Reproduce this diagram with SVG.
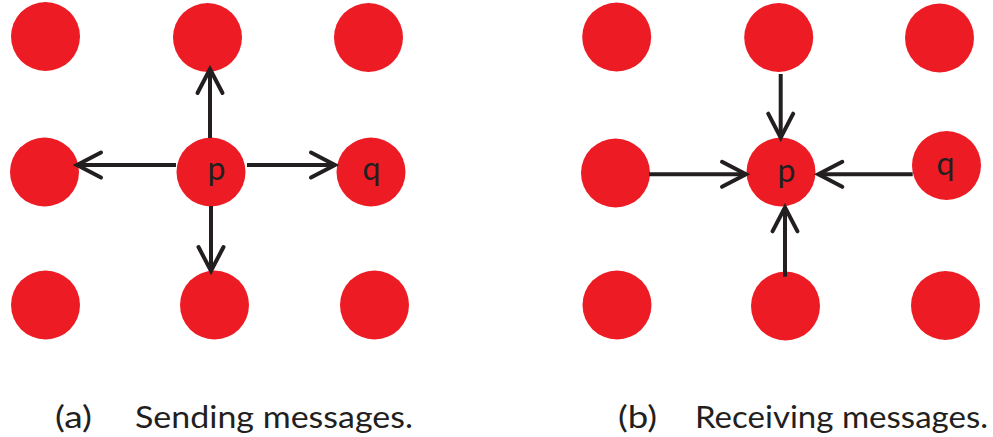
<svg xmlns="http://www.w3.org/2000/svg" width="993" height="437" viewBox="0 0 993 437">
<style>
.n{fill:#ed1c24}
.c{stroke:#231f20;stroke-width:4;fill:none}
.lbl{font-family:Lato,"Open Sans",sans-serif;font-size:32px;fill:#231f20;text-anchor:middle}
.cap{font-family:Lato,"Open Sans",sans-serif;font-size:31px;fill:#231f20}
</style>
<defs>
<marker id="ah" markerUnits="userSpaceOnUse" viewBox="-30 -16 34 32" refX="0" refY="0" markerWidth="34" markerHeight="32" orient="auto" overflow="visible">
<path d="M-24,-12.5 L0,0 L-24,12.5" fill="none" stroke="#231f20" stroke-width="4" stroke-linecap="round" stroke-linejoin="miter"/>
</marker>
</defs>
<rect width="993" height="437" fill="#fff"/>
<g id="panel-a">
<g id="a11"><circle class="n" cx="45.5" cy="36.5" r="34.5"/></g>
<g id="a12"><circle class="n" cx="207.5" cy="37.5" r="34.5"/></g>
<g id="a13"><circle class="n" cx="368.5" cy="37.5" r="34.5"/></g>
<g id="a21"><circle class="n" cx="44.5" cy="172" r="34.5"/></g>
<g id="a-p"><circle class="n" cx="211" cy="172" r="34.5"/><text class="lbl" x="216.5" y="180">p</text></g>
<g id="a-q"><circle class="n" cx="371" cy="172" r="34.5"/><text class="lbl" x="371.5" y="180">q</text></g>
<g id="a31"><circle class="n" cx="45.5" cy="305" r="34.5"/></g>
<g id="a32"><circle class="n" cx="214.5" cy="305" r="34.5"/></g>
<g id="a33"><circle class="n" cx="374.5" cy="305" r="34.5"/></g>
</g>
<g id="panel-b">
<g id="b11"><circle class="n" cx="616.7" cy="37" r="34.5"/></g>
<g id="b12"><circle class="n" cx="778.7" cy="37.5" r="34.5"/></g>
<g id="b13"><circle class="n" cx="939.5" cy="38" r="34.5"/></g>
<g id="b21"><circle class="n" cx="615.5" cy="173" r="34.5"/></g>
<g id="b-p"><circle class="n" cx="781" cy="172" r="34.5"/><text class="lbl" x="786.5" y="182">p</text></g>
<g id="b-q"><circle class="n" cx="946.5" cy="165.5" r="34.5"/><text class="lbl" x="945.5" y="175">q</text></g>
<g id="b31"><circle class="n" cx="617" cy="305" r="34.5"/></g>
<g id="b32"><circle class="n" cx="785.5" cy="306" r="34.5"/></g>
<g id="b33"><circle class="n" cx="945.5" cy="305.5" r="34.5"/></g>
</g>
<g id="connectors">
<line class="c" x1="210" y1="138" x2="210" y2="69" marker-end="url(#ah)"/>
<line class="c" x1="176" y1="165" x2="77" y2="165" marker-end="url(#ah)"/>
<line class="c" x1="247" y1="165" x2="335" y2="165" marker-end="url(#ah)"/>
<line class="c" x1="211" y1="206" x2="211" y2="271" marker-end="url(#ah)"/>
<line class="c" x1="780.7" y1="74" x2="780.7" y2="137.7" marker-end="url(#ah)"/>
<line class="c" x1="649" y1="174.3" x2="746" y2="174.3" marker-end="url(#ah)"/>
<line class="c" x1="912.7" y1="174.3" x2="818.3" y2="174.3" marker-end="url(#ah)"/>
<line class="c" x1="785" y1="276.7" x2="785" y2="207.3" marker-end="url(#ah)"/>
</g>
<g id="captions">
<text class="cap" x="55" y="428" textLength="37" lengthAdjust="spacingAndGlyphs">(a)</text>
<text class="cap" x="135" y="428" textLength="278" lengthAdjust="spacingAndGlyphs">Sending messages.</text>
<text class="cap" x="618" y="428" textLength="39" lengthAdjust="spacingAndGlyphs">(b)</text>
<text class="cap" x="695" y="428" textLength="293" lengthAdjust="spacingAndGlyphs">Receiving messages.</text>
</g>
</svg>
